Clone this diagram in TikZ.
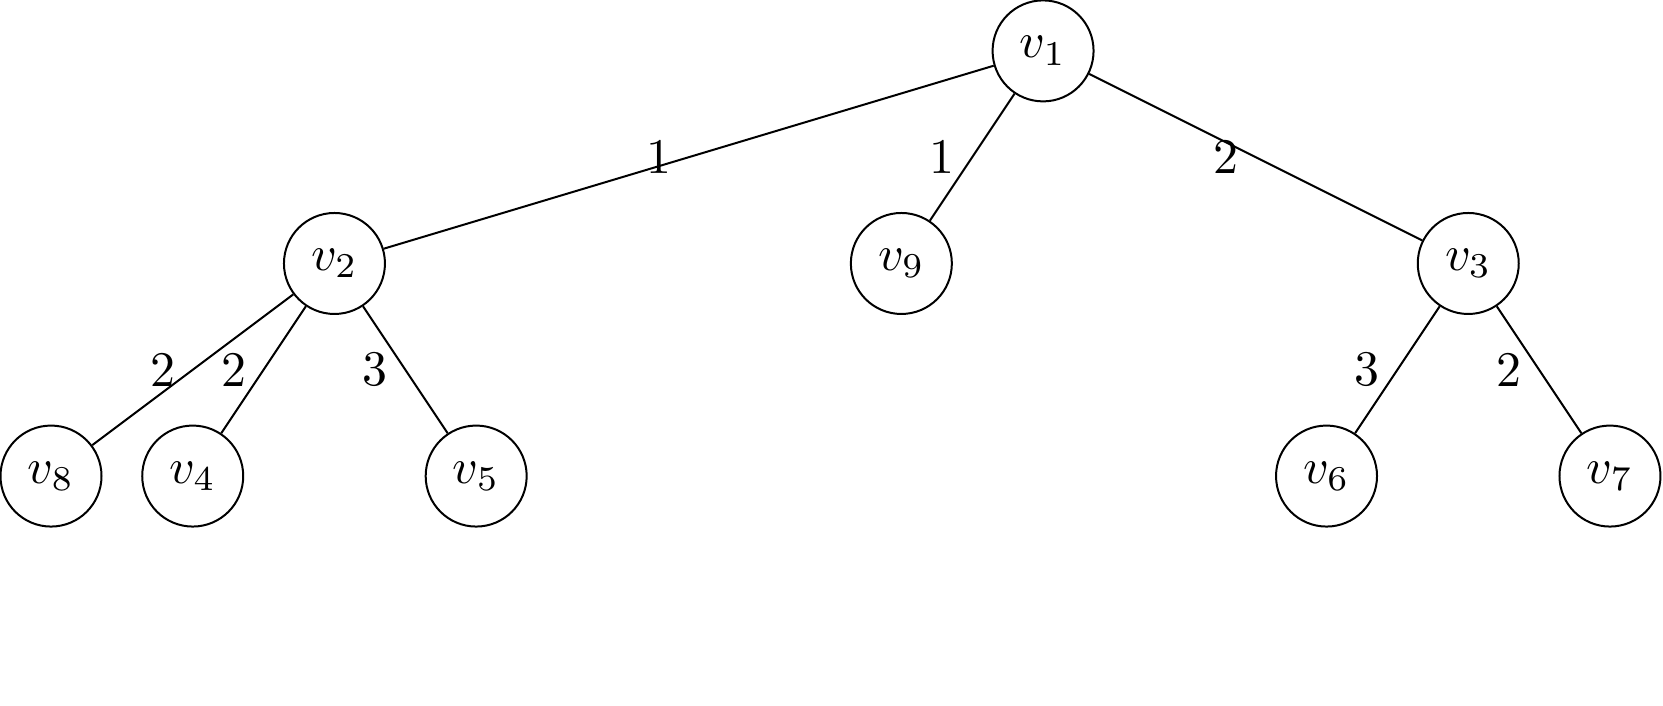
\documentclass[tikz,border=0pt]{standalone}
\usepackage{tikz}
\begin{document}
\begin{tikzpicture}[x=1cm,y=1cm, vert/.style={draw, circle}]
\useasboundingbox (-7.36,-4.62) rectangle (4.374,0.359);
\node[vert] (v1) at (0,0) {$v_1$};
\node[vert] (v2) at (-5,-1.5) {$v_2$};
\node[vert] (v9) at (-1,-1.5) {$v_9$};
\node[vert] (v3) at (3,-1.5) {$v_3$};
\node[vert] (v8) at (-7,-3) {$v_8$};
\node[vert] (v4) at (-6,-3) {$v_4$};
\node[vert] (v5) at (-4,-3) {$v_5$};
\node[vert] (v6) at (2,-3) {$v_6$};
\node[vert] (v7) at (4,-3) {$v_7$};
\draw (v1) -- node[left] {1} (v2);
\draw (v1) -- node[left] {1} (v9);
\draw (v1) -- node[left] {2} (v3);
\draw (v2) -- node[left] {2} (v8);
\draw (v2) -- node[left] {2} (v4);
\draw (v2) -- node[left] {3} (v5);
\draw (v3) -- node[left] {3} (v6);
\draw (v3) -- node[left] {2} (v7);
\end{tikzpicture}
\end{document}
